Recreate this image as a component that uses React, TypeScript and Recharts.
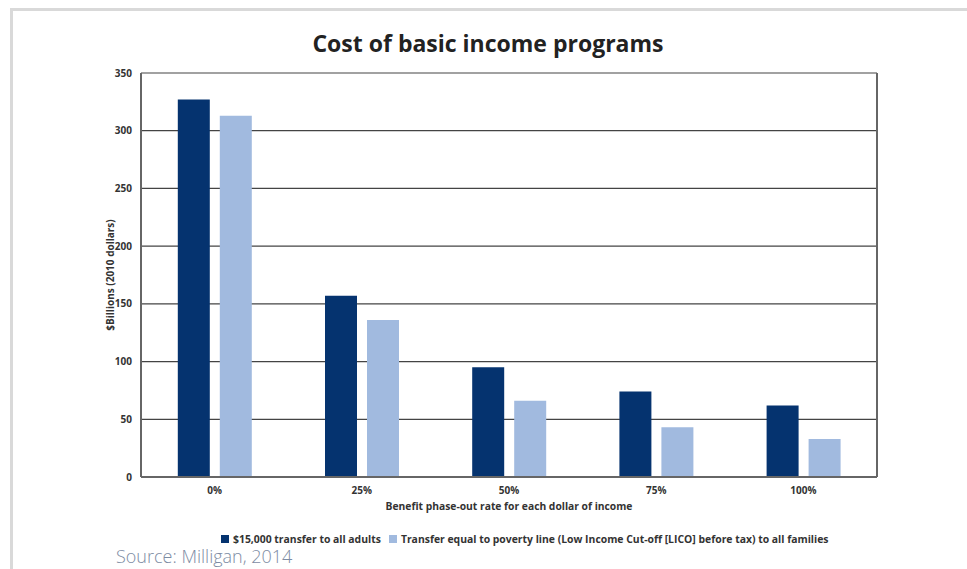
import { BarChart, Bar, XAxis, YAxis, CartesianGrid } from 'recharts';

const rates = ['0%', '25%', '50%', '75%', '100%'];
const adultTransfer = [327, 157, 95, 74, 62];
const povertyLineTransfer = [313, 136, 66, 43, 33];
const yTicks = [0, 50, 100, 150, 200, 250, 300, 350];

const seriesNames = [
  '$15,000 transfer to all adults',
  'Transfer equal to poverty line (Low Income Cut-off [LICO] before tax) to all families',
];

const DARK = '#05336f';
const LIGHT = '#a1badf';
const FONT = '"Open Sans", "Noto Sans", sans-serif';

const data = rates.map((rate, i) => ({
  rate,
  adults: adultTransfer[i],
  families: povertyLineTransfer[i],
}));

const tickStyle = { fontSize: 10, fontWeight: 700, fill: '#333', fontFamily: FONT };

export default function App() {
  return (
    <div
      style={{
        position: 'absolute',
        left: 0,
        top: 0,
        width: 967,
        height: 569,
        background: '#fff',
        overflow: 'hidden',
        fontFamily: FONT,
      }}
    >
      {/* light grey frame, top and left */}
      <div style={{ position: 'absolute', left: 10, top: 8, right: 0, height: 3, background: '#d9d9d9' }} />
      <div style={{ position: 'absolute', left: 10, top: 8, bottom: 0, width: 3, background: '#d9d9d9' }} />

      <div
        style={{
          position: 'absolute',
          left: 0,
          width: 976,
          top: 27,
          textAlign: 'center',
          fontSize: 23,
          fontWeight: 700,
          color: '#222',
        }}
      >
        Cost of basic income programs
      </div>

      <div style={{ position: 'absolute', left: 0, top: 0 }}>
        <BarChart
          width={967}
          height={569}
          data={data}
          margin={{ top: 73, right: 89, bottom: 62, left: 0 }}
          barCategoryGap="25%"
          barGap={10}
        >
          <CartesianGrid yAxisId="left" vertical={false} stroke="#444" strokeWidth={1.2} />
          <XAxis
            dataKey="rate"
            tickLine={false}
            axisLine={{ stroke: '#666', strokeWidth: 2 }}
            tick={tickStyle}
            tickMargin={4}
            height={30}
            label={{
              value: 'Benefit phase-out rate for each dollar of income',
              position: 'bottom',
              offset: -4,
              style: { fontSize: 10.3, fontWeight: 700, fill: '#333', fontFamily: FONT },
            }}
          />
          <YAxis
            yAxisId="left"
            domain={[0, 350]}
            ticks={yTicks}
            width={141}
            tickLine={false}
            axisLine={{ stroke: '#666', strokeWidth: 2 }}
            tick={tickStyle}
            tickMargin={3}
            label={{
              value: '$Billions (2010 dollars)',
              angle: -90,
              position: 'center',
              dx: 40,
              style: { fontSize: 10, fontWeight: 700, fill: '#333', fontFamily: FONT, textAnchor: 'middle' },
            }}
          />
          <YAxis
            yAxisId="right"
            orientation="right"
            domain={[0, 350]}
            width={1}
            tick={false}
            tickLine={false}
            axisLine={{ stroke: '#666', strokeWidth: 2 }}
          />
          <Bar yAxisId="left" dataKey="adults" name={seriesNames[0]} fill={DARK} isAnimationActive={false} />
          <Bar yAxisId="left" dataKey="families" name={seriesNames[1]} fill={LIGHT} isAnimationActive={false} />
        </BarChart>
      </div>

      <div
        style={{
          position: 'absolute',
          left: 221,
          top: 532,
          display: 'flex',
          alignItems: 'center',
          fontSize: 10.4,
          fontWeight: 700,
          color: '#333',
          whiteSpace: 'nowrap',
        }}
      >
        <span style={{ width: 8, height: 8, background: DARK, display: 'inline-block', marginRight: 4 }} />
        <span style={{ marginRight: 8 }}>{seriesNames[0]}</span>
        <span style={{ width: 8, height: 8, background: LIGHT, display: 'inline-block', marginRight: 4 }} />
        <span>{seriesNames[1]}</span>
      </div>

      <div
        style={{
          position: 'absolute',
          left: 116,
          top: 547,
          fontSize: 18,
          lineHeight: '18px',
          fontWeight: 300,
          color: '#7d8ca3',
          whiteSpace: 'nowrap',
        }}
      >
        Source: Milligan, 2014
      </div>
    </div>
  );
}
